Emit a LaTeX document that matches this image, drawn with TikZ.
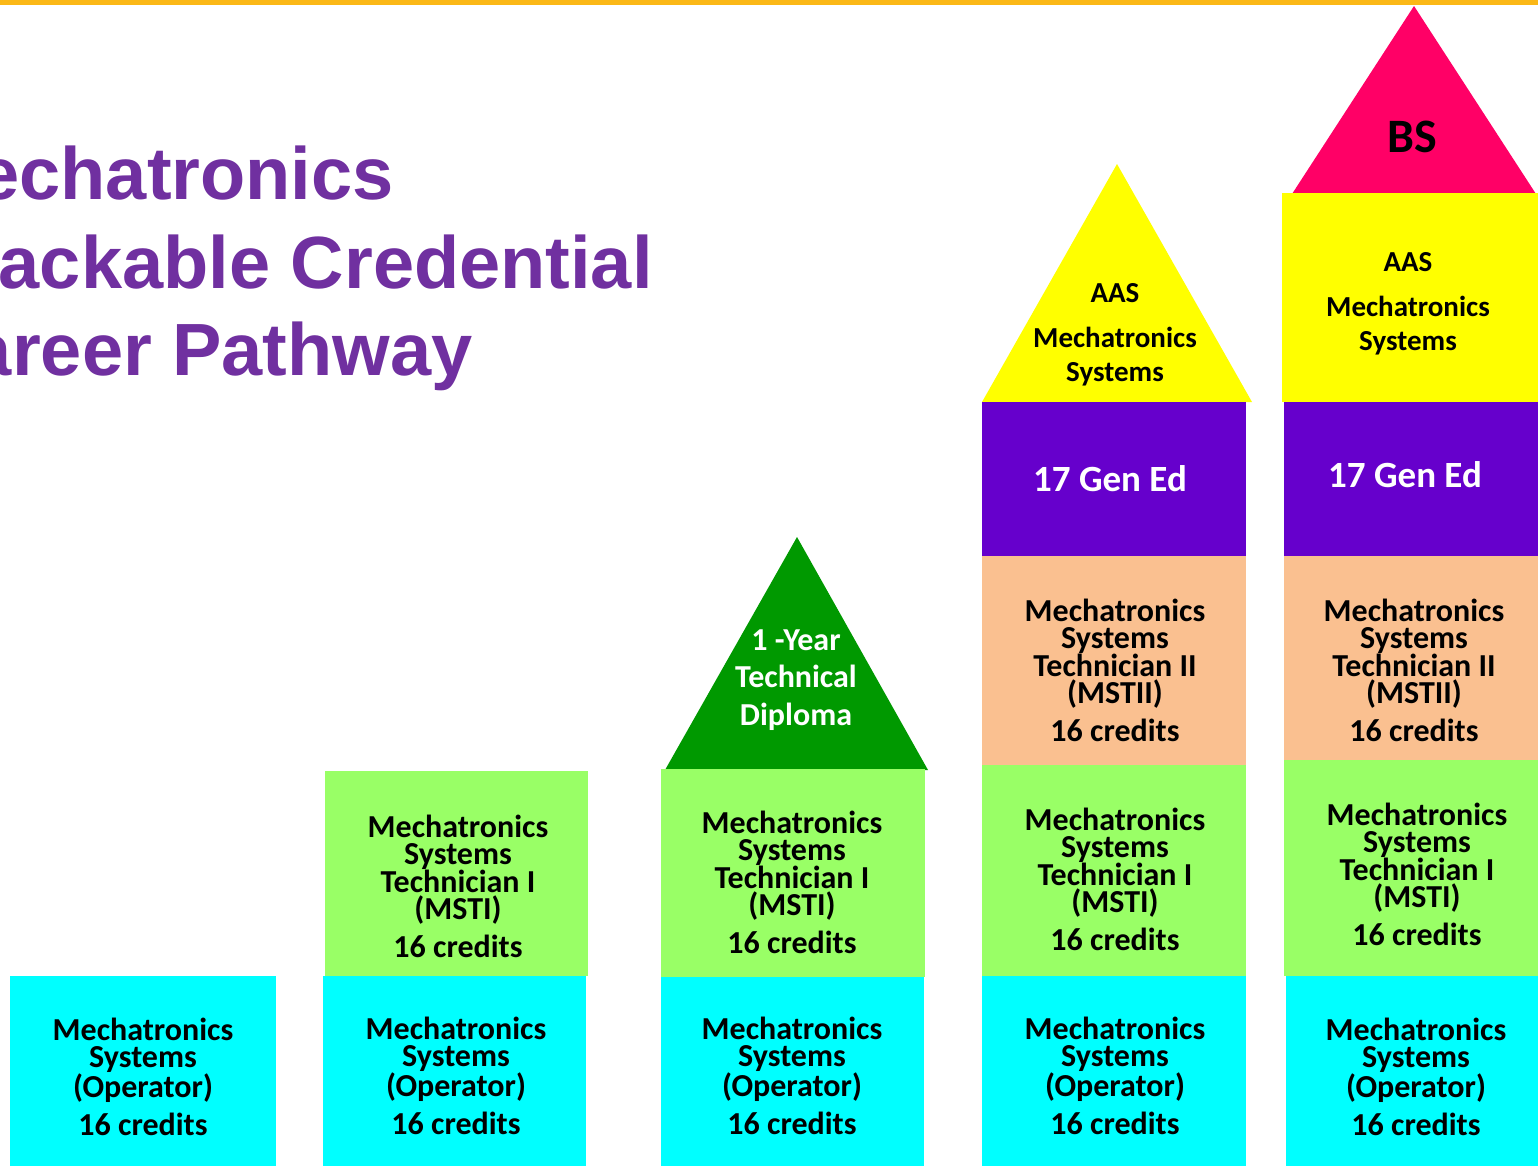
\documentclass[tikz,border=0pt]{standalone}
\usepackage{fontspec}
\newfontfamily\calfont{Carlito}
\newfontfamily\arifont{Liberation Sans}
\definecolor{cyanc}{HTML}{00FFFF}
\definecolor{limec}{HTML}{99FF66}
\definecolor{peachc}{HTML}{FAC090}
\definecolor{purplec}{HTML}{6600CC}
\definecolor{yellowc}{HTML}{FFFF00}
\definecolor{pinkc}{HTML}{FF0066}
\definecolor{dgreenc}{HTML}{009900}
\definecolor{titlec}{HTML}{7030A0}
\definecolor{goldc}{HTML}{FBB817}
\begin{document}
\begin{tikzpicture}[x=1pt,y=-1pt,
  blk/.style={rectangle,inner sep=0pt,outer sep=0pt,draw=none},
  boxtxt/.style={font=\calfont\bfseries\fontsize{32}{27.5}\selectfont,align=center,inner sep=0pt,anchor=south,text=black},
  tritxt/.style={font=\calfont\bfseries\fontsize{29}{34}\selectfont,align=center,inner sep=0pt,anchor=center,text=black},
  diptxt/.style={font=\calfont\bfseries\fontsize{32}{37.5}\selectfont,align=center,inner sep=0pt,anchor=center,text=white},
  gentxt/.style={font=\calfont\bfseries\fontsize{37}{40}\selectfont,inner sep=0pt,anchor=center,text=white},
  ttl/.style={font=\arifont\bfseries\fontsize{74}{88}\selectfont,inner sep=0pt,anchor=base east,text=titlec}]
\useasboundingbox (0,0) rectangle (1538,1165);
\clip (0,0) rectangle (1538,1165);
\fill[white] (0,0) rectangle (1538,1165);
% top line
\fill[goldc] (0,0) rectangle (1538,4.5);
% title
\node[ttl] (t1) at (394,199) {echatronics};
\node[ttl] (t2) at (653,288) {ackable Credential};
\node[ttl] (t3) at (473,375) {areer Pathway};
% column 1
\node[blk,fill=cyanc,minimum width=266pt,minimum height=205pt] (c1a) at (143,1078.5) {};
\node[boxtxt] (c1at) at (143,1136) {Mechatronics\\Systems\\(Operator)\\[10.5pt]16 credits};
% column 2
\node[blk,fill=limec,minimum width=263pt,minimum height=205pt] (c2b) at (456.5,873.5) {};
\node[blk,fill=cyanc,minimum width=263pt,minimum height=205pt] (c2a) at (454.5,1078.5) {};
\node[boxtxt] (c2bt) at (458,958) {Mechatronics\\Systems\\Technician I\\(MSTI)\\[10.5pt]16 credits};
\node[boxtxt] (c2at) at (456,1135) {Mechatronics\\Systems\\(Operator)\\[10.5pt]16 credits};
% column 3
\fill[dgreenc] (797,537) -- (665,770) -- (928,770) -- cycle;
\node[blk,fill=limec,minimum width=264pt,minimum height=208pt] (c3b) at (793,873) {};
\node[blk,fill=cyanc,minimum width=263pt,minimum height=204pt] (c3a) at (792.5,1079) {};
\node[diptxt] (c3ct) at (796,680) {1 -Year\\Technical\\Diploma};
\node[boxtxt] (c3bt) at (792,954) {Mechatronics\\Systems\\Technician I\\(MSTI)\\[10.5pt]16 credits};
\node[boxtxt] (c3at) at (792,1135) {Mechatronics\\Systems\\(Operator)\\[10.5pt]16 credits};
% column 4
\fill[yellowc] (1117,164) -- (982,402) -- (1252,402) -- cycle;
\node[blk,fill=purplec,minimum width=264pt,minimum height=154pt] (c4d) at (1114,479) {};
\node[blk,fill=peachc,minimum width=264pt,minimum height=209pt] (c4c) at (1114,660.5) {};
\node[blk,fill=limec,minimum width=264pt,minimum height=211pt] (c4b) at (1114,870.5) {};
\node[blk,fill=cyanc,minimum width=264pt,minimum height=205pt] (c4a) at (1114,1078.5) {};
\node[tritxt] (c4et) at (1115,335) {AAS\\[11pt]Mechatronics\\Systems};
\node[gentxt] (c4dt) at (1110,479) {17 Gen Ed};
\node[boxtxt] (c4ct) at (1115,742) {Mechatronics\\Systems\\Technician II\\(MSTII)\\[10.5pt]16 credits};
\node[boxtxt] (c4bt) at (1115,951) {Mechatronics\\Systems\\Technician I\\(MSTI)\\[10.5pt]16 credits};
\node[boxtxt] (c4at) at (1115,1135) {Mechatronics\\Systems\\(Operator)\\[10.5pt]16 credits};
% column 5
\fill[pinkc] (1414,6) -- (1292,194) -- (1536,194) -- cycle;
\node[blk,fill=yellowc,minimum width=258pt,minimum height=209pt] (c5e) at (1411,297.5) {};
\node[blk,fill=purplec,minimum width=256pt,minimum height=154pt] (c5d) at (1412,479) {};
\node[blk,fill=peachc,minimum width=256pt,minimum height=204pt] (c5c) at (1412,658) {};
\node[blk,fill=limec,minimum width=256pt,minimum height=216pt] (c5b) at (1412,868) {};
\node[blk,fill=cyanc,minimum width=254pt,minimum height=205pt] (c5a) at (1413,1078.5) {};
\node[font=\calfont\bfseries\fontsize{48}{50}\selectfont,inner sep=0pt,text=black] (c5ft) at (1412,137) {BS};
\node[tritxt] (c5et) at (1408,304) {AAS\\[11pt]Mechatronics\\Systems};
\node[gentxt] (c5dt) at (1405,475) {17 Gen Ed};
\node[boxtxt] (c5ct) at (1414,742) {Mechatronics\\Systems\\Technician II\\(MSTII)\\[10.5pt]16 credits};
\node[boxtxt] (c5bt) at (1417,946) {Mechatronics\\Systems\\Technician I\\(MSTI)\\[10.5pt]16 credits};
\node[boxtxt] (c5at) at (1416,1136) {Mechatronics\\Systems\\(Operator)\\[10.5pt]16 credits};
\end{tikzpicture}
\end{document}
